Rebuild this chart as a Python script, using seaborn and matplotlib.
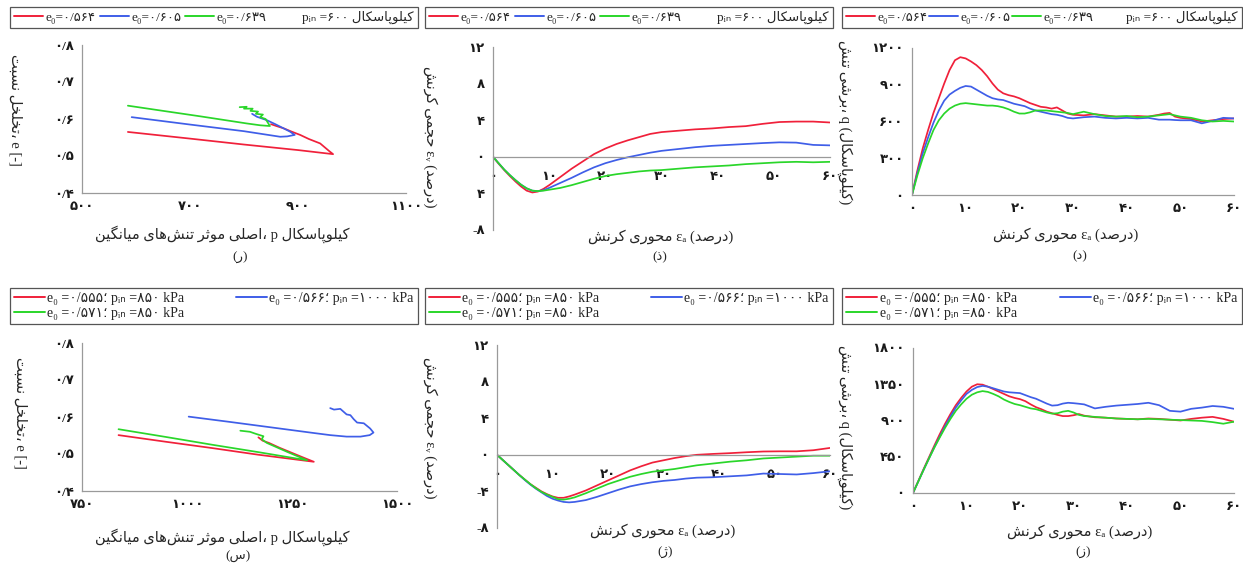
import numpy as np
import pandas as pd
import matplotlib
matplotlib.use("Agg")
import matplotlib.pyplot as plt
from matplotlib.lines import Line2D
import seaborn as sns

# ---------------- data ----------------
# (r) top-left : e vs p, p_in = 600 kPa
r_red_p = [585, 700, 800, 900, 965, 958, 941, 920, 904, 888, 873, 860, 850]
r_red_e = [0.565, 0.547, 0.531, 0.516, 0.505, 0.513, 0.534, 0.546, 0.557, 0.566, 0.575, 0.581, 0.586]
r_blue_p = [592, 700, 800, 867, 880, 894, 885, 873, 858, 842, 830, 824, 815]
r_blue_e = [0.605, 0.585, 0.567, 0.552, 0.553, 0.557, 0.566, 0.575, 0.586, 0.597, 0.603, 0.606, 0.614]
r_green_p = [585, 650, 720, 805, 830, 848, 840, 830, 835, 822, 826, 812, 816, 800, 805, 792]
r_green_e = [0.636, 0.622, 0.607, 0.588, 0.583, 0.581, 0.600, 0.605, 0.612, 0.614, 0.620, 0.622, 0.628, 0.628, 0.633, 0.632]

# (dh) top-middle : volumetric strain vs axial strain
z_ea = [0, 1, 2, 3, 4, 5, 6, 7, 8, 9, 10, 12, 14, 16, 18, 20, 22, 24, 26, 28, 30,
        33, 36, 39, 42, 45, 48, 51, 54, 57, 60]
z_red = [0, -0.75, -1.45, -2.1, -2.7, -3.25, -3.7, -3.9, -3.8, -3.5, -3.1, -2.2, -1.3, -0.5,
         0.3, 0.9, 1.4, 1.8, 2.15, 2.5, 2.7, 2.85, 3.0, 3.1, 3.25, 3.35, 3.6, 3.8, 3.85, 3.85, 3.75]
z_blue = [0, -0.7, -1.4, -2.0, -2.55, -3.05, -3.45, -3.7, -3.75, -3.65, -3.4, -2.85, -2.3, -1.7,
          -1.15, -0.7, -0.35, -0.05, 0.2, 0.45, 0.65, 0.85, 1.05, 1.2, 1.3, 1.4, 1.5, 1.58, 1.55, 1.3, 1.25]
z_green = [0, -0.7, -1.4, -2.0, -2.55, -3.05, -3.45, -3.7, -3.75, -3.7, -3.6, -3.4, -3.1, -2.75,
           -2.4, -2.1, -1.9, -1.75, -1.6, -1.5, -1.45, -1.3, -1.15, -1.05, -0.95, -0.8, -0.7, -0.6,
           -0.55, -0.6, -0.55]

# (d) top-right : deviator stress q vs axial strain
d_ea = [0, 1, 2, 3, 4, 5, 6, 7, 8, 9, 10, 11, 12, 13, 14, 15, 16, 17, 18, 19, 20, 21, 22, 23,
        24, 25, 26, 27, 28, 29, 30, 32, 34, 36, 38, 40, 42, 44, 46, 47, 48, 49, 50, 52, 54, 56, 58, 60]
d_red = [0, 200, 380, 530, 670, 790, 910, 1020, 1100, 1125, 1115, 1090, 1060, 1020, 970, 910, 860,
         830, 815, 805, 790, 770, 750, 735, 720, 715, 705, 715, 690, 665, 655, 650, 660, 650, 640,
         640, 645, 640, 655, 665, 670, 640, 630, 620, 600, 610, 620, 625]
d_blue = [0, 180, 340, 470, 590, 690, 770, 820, 850, 875, 890, 885, 860, 835, 810, 790, 780, 775,
          760, 745, 735, 725, 705, 690, 680, 670, 660, 655, 645, 630, 625, 635, 640, 630, 625, 630,
          625, 630, 615, 615, 615, 612, 610, 610, 585, 605, 630, 625]
d_green = [0, 160, 300, 420, 530, 610, 665, 705, 730, 745, 750, 745, 740, 735, 730, 730, 725, 715,
           700, 680, 665, 665, 675, 690, 690, 690, 685, 680, 675, 670, 660, 680, 660, 645, 640, 645,
           635, 640, 650, 655, 660, 650, 640, 630, 610, 600, 605, 600]

# (s) bottom-left : e vs p
s_red_p = [837, 950, 1060, 1170, 1302, 1280, 1250, 1220, 1195, 1180, 1170]
s_red_e = [0.551, 0.533, 0.516, 0.498, 0.479, 0.489, 0.503, 0.517, 0.530, 0.536, 0.545]
s_blue_p = [1004, 1100, 1200, 1300, 1341, 1380, 1413, 1435, 1444, 1436, 1421, 1405, 1397, 1389,
            1380, 1373, 1365, 1350, 1341]
s_blue_e = [0.601, 0.587, 0.572, 0.557, 0.551, 0.547, 0.547, 0.551, 0.558, 0.569, 0.583, 0.585,
            0.594, 0.605, 0.607, 0.614, 0.622, 0.620, 0.624]
s_green_p = [837, 950, 1060, 1170, 1286, 1238, 1200, 1190, 1178, 1182, 1168, 1160, 1150, 1127]
s_green_e = [0.567, 0.546, 0.525, 0.505, 0.483, 0.506, 0.525, 0.530, 0.540, 0.548, 0.553, 0.556, 0.560, 0.563]

# (zh) bottom-middle : volumetric strain vs axial strain
zh_ea = [0, 1, 2, 3, 4, 5, 6, 7, 8, 9, 10, 11, 12, 13, 14, 16, 18, 20, 22, 24, 26, 28, 30, 32, 34,
         36, 39, 42, 45, 48, 51, 54, 57, 60]
zh_red = [0, -0.55, -1.1, -1.65, -2.2, -2.7, -3.2, -3.6, -4.0, -4.3, -4.55, -4.7, -4.7, -4.55,
          -4.35, -3.9, -3.35, -2.8, -2.25, -1.7, -1.25, -0.85, -0.6, -0.35, -0.15, 0.0, 0.1, 0.18,
          0.28, 0.36, 0.38, 0.38, 0.5, 0.75]
zh_blue = [0, -0.55, -1.1, -1.65, -2.2, -2.75, -3.25, -3.7, -4.1, -4.5, -4.8, -5.0, -5.15, -5.2,
           -5.15, -4.95, -4.6, -4.2, -3.8, -3.45, -3.2, -3.0, -2.85, -2.75, -2.6, -2.5, -2.45,
           -2.35, -2.25, -2.05, -2.1, -2.15, -2.0, -1.8]
zh_green = [0, -0.55, -1.1, -1.65, -2.2, -2.7, -3.2, -3.65, -4.05, -4.35, -4.6, -4.85, -4.9, -4.8,
            -4.65, -4.2, -3.7, -3.2, -2.8, -2.4, -2.1, -1.85, -1.7, -1.55, -1.35, -1.15, -0.95,
            -0.75, -0.6, -0.4, -0.3, -0.2, -0.1, -0.1]

# (z) bottom-right : deviator stress q vs axial strain
zz_ea = [0, 1, 2, 3, 4, 5, 6, 7, 8, 9, 10, 11, 12, 13, 14, 15, 16, 17, 18, 19, 20, 21, 22, 23,
         24, 25, 26, 27, 28, 29, 30, 31, 32, 34, 36, 38, 40, 42, 44, 46, 48, 50, 52, 54, 56, 58, 60]
zz_red = [0, 150, 300, 445, 590, 730, 860, 980, 1090, 1180, 1260, 1320, 1350, 1345, 1320, 1290,
          1260, 1230, 1200, 1180, 1165, 1140, 1100, 1065, 1040, 1010, 990, 970, 955, 955, 965, 980,
          960, 940, 935, 925, 920, 915, 925, 920, 910, 900, 920, 935, 945, 920, 885]
zz_blue = [0, 145, 290, 430, 570, 700, 830, 950, 1060, 1150, 1230, 1280, 1315, 1330, 1320, 1300,
           1280, 1260, 1250, 1245, 1240, 1215, 1190, 1170, 1140, 1110, 1085, 1090, 1110, 1120, 1115,
           1108, 1100, 1050, 1070, 1085, 1095, 1105, 1120, 1090, 1020, 1010, 1045, 1060, 1080, 1070, 1045]
zz_green = [0, 145, 290, 430, 565, 690, 810, 920, 1020, 1100, 1170, 1220, 1250, 1265, 1255, 1230,
            1200, 1160, 1130, 1105, 1090, 1070, 1050, 1040, 1020, 1000, 985, 990, 1010, 1020, 1000,
            970, 955, 945, 935, 925, 920, 915, 920, 915, 910, 905, 900, 895, 880, 860, 885]

# legend / label texts
top_legend = ["e\u2080=\u06f0/\u06f5\u06f6\u06f4", "e\u2080=\u06f0/\u06f6\u06f0\u06f5",
              "e\u2080=\u06f0/\u06f6\u06f3\u06f9", "p\u1d62\u2099 =\u06f6\u06f0\u06f0 کیلوپاسکال"]
bot_legend = ["e\u2080 =\u06f0/\u06f5\u06f5\u06f5؛ p\u1d62\u2099 =\u06f8\u06f5\u06f0 kPa",
              "e\u2080 =\u06f0/\u06f5\u06f6\u06f6؛ p\u1d62\u2099 =\u06f1\u06f0\u06f0\u06f0 kPa",
              "e\u2080 =\u06f0/\u06f5\u06f7\u06f1؛ p\u1d62\u2099 =\u06f8\u06f5\u06f0 kPa"]
xlab_p = "میانگین تنش\u200cهای موثر اصلی، p کیلوپاسکال"
xlab_ea = "کرنش محوری \u03b5\u2090 (درصد)"
ylab_e = "نسبت تخلخل، e [-]"
ylab_ev = "کرنش حجمی \u03b5\u1d65 (درصد)"
ylab_q = "تنش برشی، q (کیلوپاسکال)"
captions = ["(ر)", "(ذ)", "(د)", "(س)", "(ژ)", "(ز)"]

e_ticks = [0.4, 0.5, 0.6, 0.7, 0.8]
e_ticklabels = ["\u06f0/\u06f4", "\u06f0/\u06f5", "\u06f0/\u06f6", "\u06f0/\u06f7", "\u06f0/\u06f8"]
r_pticks = [500, 700, 900, 1100]
r_pticklabels = ["\u06f5\u06f0\u06f0", "\u06f7\u06f0\u06f0", "\u06f9\u06f0\u06f0", "\u06f1\u06f1\u06f0\u06f0"]
s_pticks = [750, 1000, 1250, 1500]
s_pticklabels = ["\u06f7\u06f5\u06f0", "\u06f1\u06f0\u06f0\u06f0", "\u06f1\u06f2\u06f5\u06f0", "\u06f1\u06f5\u06f0\u06f0"]
ea_ticks = [0, 10, 20, 30, 40, 50, 60]
ea_ticklabels = ["\u06f0", "\u06f1\u06f0", "\u06f2\u06f0", "\u06f3\u06f0", "\u06f4\u06f0", "\u06f5\u06f0", "\u06f6\u06f0"]
ev_ticks = [-8, -4, 0, 4, 8, 12]
ev_ticklabels_top = ["-\u06f8", "\u06f4", "\u06f0", "\u06f4", "\u06f8", "\u06f1\u06f2"]
ev_ticklabels_bot = ["-\u06f8", "-\u06f4", "\u06f0", "\u06f4", "\u06f8", "\u06f1\u06f2"]
q1_ticks = [0, 300, 600, 900, 1200]
q1_ticklabels = ["\u06f0", "\u06f3\u06f0\u06f0", "\u06f6\u06f0\u06f0", "\u06f9\u06f0\u06f0", "\u06f1\u06f2\u06f0\u06f0"]
q2_ticks = [0, 450, 900, 1350, 1800]
q2_ticklabels = ["\u06f0", "\u06f4\u06f5\u06f0", "\u06f9\u06f0\u06f0", "\u06f1\u06f3\u06f5\u06f0", "\u06f1\u06f8\u06f0\u06f0"]

# ---------------- Persian shaping (visual form) ----------------
_AR = {
    '\u0622': ('\uFE81', '\uFE82', None, None),
    '\u0627': ('\uFE8D', '\uFE8E', None, None),
    '\u0628': ('\uFE8F', '\uFE90', '\uFE91', '\uFE92'),
    '\u067E': ('\uFB56', '\uFB57', '\uFB58', '\uFB59'),
    '\u062A': ('\uFE95', '\uFE96', '\uFE97', '\uFE98'),
    '\u062B': ('\uFE99', '\uFE9A', '\uFE9B', '\uFE9C'),
    '\u062C': ('\uFE9D', '\uFE9E', '\uFE9F', '\uFEA0'),
    '\u0686': ('\uFB7A', '\uFB7B', '\uFB7C', '\uFB7D'),
    '\u062D': ('\uFEA1', '\uFEA2', '\uFEA3', '\uFEA4'),
    '\u062E': ('\uFEA5', '\uFEA6', '\uFEA7', '\uFEA8'),
    '\u062F': ('\uFEA9', '\uFEAA', None, None),
    '\u0630': ('\uFEAB', '\uFEAC', None, None),
    '\u0631': ('\uFEAD', '\uFEAE', None, None),
    '\u0632': ('\uFEAF', '\uFEB0', None, None),
    '\u0698': ('\uFB8A', '\uFB8B', None, None),
    '\u0633': ('\uFEB1', '\uFEB2', '\uFEB3', '\uFEB4'),
    '\u0634': ('\uFEB5', '\uFEB6', '\uFEB7', '\uFEB8'),
    '\u0635': ('\uFEB9', '\uFEBA', '\uFEBB', '\uFEBC'),
    '\u0636': ('\uFEBD', '\uFEBE', '\uFEBF', '\uFEC0'),
    '\u0637': ('\uFEC1', '\uFEC2', '\uFEC3', '\uFEC4'),
    '\u0638': ('\uFEC5', '\uFEC6', '\uFEC7', '\uFEC8'),
    '\u0639': ('\uFEC9', '\uFECA', '\uFECB', '\uFECC'),
    '\u063A': ('\uFECD', '\uFECE', '\uFECF', '\uFED0'),
    '\u0641': ('\uFED1', '\uFED2', '\uFED3', '\uFED4'),
    '\u0642': ('\uFED5', '\uFED6', '\uFED7', '\uFED8'),
    '\u06A9': ('\uFB8E', '\uFB8F', '\uFB90', '\uFB91'),
    '\u06AF': ('\uFB92', '\uFB93', '\uFB94', '\uFB95'),
    '\u0644': ('\uFEDD', '\uFEDE', '\uFEDF', '\uFEE0'),
    '\u0645': ('\uFEE1', '\uFEE2', '\uFEE3', '\uFEE4'),
    '\u0646': ('\uFEE5', '\uFEE6', '\uFEE7', '\uFEE8'),
    '\u0648': ('\uFEED', '\uFEEE', None, None),
    '\u0647': ('\uFEE9', '\uFEEA', '\uFEEB', '\uFEEC'),
    '\u06CC': ('\uFBFC', '\uFBFD', '\uFBFE', '\uFBFF'),
}


def fa(s):
    out, run = [], []

    def flush():
        shaped = []
        for i, c in enumerate(run):
            if c not in _AR:
                continue
            prev = run[i - 1] if i > 0 else None
            nxt = run[i + 1] if i + 1 < len(run) else None
            jp = prev in _AR and _AR[prev][2] is not None
            jn = nxt in _AR and _AR[c][2] is not None
            f = _AR[c]
            shaped.append(f[3] if (jp and jn) else f[1] if jp else f[2] if jn else f[0])
        out.extend(reversed(shaped))
        run.clear()

    for ch in s:
        if ch in _AR or ch == '\u200c':
            run.append(ch)
        else:
            flush()
            out.append(ch)
    flush()
    return ''.join(out)


# ---------------- style ----------------
sns.set_style("white")
FAM = ['Liberation Serif', 'DejaVu Sans']
plt.rcParams['font.family'] = FAM
plt.rcParams['axes.unicode_minus'] = False

RED, BLUE, GREEN = '#f0203a', '#3f5ee8', '#2ad62a'
GREY = '#9a9a9a'
TICKFONT = {'fontsize': 9.5, 'fontweight': 'bold', 'color': '#1a1a1a', 'family': FAM}

W, H = 1243, 569
fig = plt.figure(figsize=(W / 100, H / 100), dpi=100)


def rect(x0, x1, ytop, ybot):
    return [x0 / W, 1 - ybot / H, (x1 - x0) / W, (ybot - ytop) / H]


def style(ax, zero_spine=False):
    for s in ['top', 'right']:
        ax.spines[s].set_visible(False)
    for s in ['left', 'bottom']:
        ax.spines[s].set_color(GREY)
        ax.spines[s].set_linewidth(0.9)
    if zero_spine:
        ax.spines['bottom'].set_position(('data', 0))
    ax.tick_params(axis='both', direction='out', length=3, width=0.8, color=GREY, pad=3)
    if zero_spine:
        ax.tick_params(axis='x', pad=7)
    ax.grid(False)
    ax.set_facecolor('white')


def draw(ax, series):
    rows = []
    for name, xs, ys in series:
        for i, (a, b) in enumerate(zip(xs, ys)):
            rows.append({'s': name, 'x': a, 'y': b, 'o': i})
    df = pd.DataFrame(rows)
    sns.lineplot(data=df, x='x', y='y', hue='s', palette={'r': RED, 'b': BLUE, 'g': GREEN},
                 hue_order=[s[0] for s in series], sort=False, estimator=None, units='s',
                 legend=False, lw=1.25, ax=ax)
    ax.set_xlabel('')
    ax.set_ylabel('')


def ticks(ax, xt, xl, yt, yl):
    ax.set_xticks(xt, xl, **TICKFONT)
    ax.set_yticks(yt, yl, **TICKFONT)


axes_px = [
    (82, 406, 45, 193), (493, 830, 47, 230), (912, 1234, 48, 195),
    (82, 397, 343, 491), (497, 830, 345, 528), (913, 1234, 348, 493),
]
axs = [fig.add_axes(rect(*a)) for a in axes_px]
for i, ax in enumerate(axs):
    style(ax, zero_spine=(i in (1, 4)))

# top-left
ax = axs[0]
draw(ax, [('r', r_red_p, r_red_e), ('b', r_blue_p, r_blue_e), ('g', r_green_p, r_green_e)])
ax.set_xlim(500, 1100); ax.set_ylim(0.4, 0.8)
ticks(ax, r_pticks, r_pticklabels, e_ticks, e_ticklabels)

# top-middle
ax = axs[1]
draw(ax, [('r', z_ea, z_red), ('b', z_ea, z_blue), ('g', z_ea, z_green)])
ax.set_xlim(0, 60); ax.set_ylim(-8, 12)
ticks(ax, ea_ticks, ea_ticklabels, ev_ticks, ev_ticklabels_top)

# top-right
ax = axs[2]
draw(ax, [('r', d_ea, d_red), ('b', d_ea, d_blue), ('g', d_ea, d_green)])
ax.set_xlim(0, 60); ax.set_ylim(0, 1200)
ticks(ax, ea_ticks, ea_ticklabels, q1_ticks, q1_ticklabels)

# bottom-left
ax = axs[3]
draw(ax, [('r', s_red_p, s_red_e), ('b', s_blue_p, s_blue_e), ('g', s_green_p, s_green_e)])
ax.set_xlim(750, 1500); ax.set_ylim(0.4, 0.8)
ticks(ax, s_pticks, s_pticklabels, e_ticks, e_ticklabels)

# bottom-middle
ax = axs[4]
draw(ax, [('r', zh_ea, zh_red), ('b', zh_ea, zh_blue), ('g', zh_ea, zh_green)])
ax.set_xlim(0, 60); ax.set_ylim(-8, 12)
ticks(ax, ea_ticks, ea_ticklabels, ev_ticks, ev_ticklabels_bot)

# bottom-right
ax = axs[5]
draw(ax, [('r', zz_ea, zz_red), ('b', zz_ea, zz_blue), ('g', zz_ea, zz_green)])
ax.set_xlim(0, 60); ax.set_ylim(0, 1800)
ticks(ax, ea_ticks, ea_ticklabels, q2_ticks, q2_ticklabels)

# labels
xlabels = [xlab_p, xlab_ea, xlab_ea, xlab_p, xlab_ea, xlab_ea]
xlab_x = [222, 661, 1066, 222, 663, 1080]
xlab_y = [234, 237, 235, 537, 531, 532]
cap_x = [240, 660, 1080, 238, 665, 1083]
cap_y = [258, 257, 256, 557, 553, 553]
ylabels = [ylab_e, ylab_ev, ylab_q, ylab_e, ylab_ev, ylab_q]
ylab_x = [15, 430, 845, 20, 430, 845]
ylab_yc = [110, 137, 122, 413, 428, 427]
for i, ax in enumerate(axs):
    x0, x1, yt, yb = axes_px[i]
    ax.set_xlabel(fa(xlabels[i]), fontsize=10.5, family=FAM)
    ax.xaxis.set_label_coords((xlab_x[i] - x0) / (x1 - x0), (yb - xlab_y[i]) / (yb - yt))
    ax.xaxis.label.set_va('center')
    ax.set_ylabel(fa(ylabels[i]), fontsize=10.5, family=FAM, rotation=270)
    ax.yaxis.set_label_coords((ylab_x[i] - x0) / (x1 - x0), (yb - ylab_yc[i]) / (yb - yt))
    ax.yaxis.label.set_va('center')
    ax.yaxis.label.set_ha('center')
    fig.text(cap_x[i] / W, 1 - cap_y[i] / H, fa(captions[i]), fontsize=9.5, family=FAM,
             ha='center', va='center')

# legends
leg_boxes = [(10, 418), (425, 833), (842, 1242)]
for i, ax in enumerate(axs):
    x0, x1 = leg_boxes[i % 3]
    if i < 3:
        handles = [Line2D([], [], color=c, lw=1.4) for c in (RED, BLUE, GREEN)]
        handles.append(Line2D([], [], color='none'))
        labels = [fa(t) for t in top_legend]
        ncol, ytop, fs = 4, 7, 9.5
    else:
        handles = [Line2D([], [], color=c, lw=1.4) for c in (RED, GREEN, BLUE)]
        labels = [fa(bot_legend[0]), fa(bot_legend[2]), fa(bot_legend[1])]
        ncol, ytop, fs = 2, 288, 10
    leg = ax.legend(handles, labels, loc='upper left', ncol=ncol, mode='expand',
                    bbox_to_anchor=(x0 / W, 1 - ytop / H, (x1 - x0) / W, 0),
                    bbox_transform=fig.transFigure, borderaxespad=0,
                    prop={'family': FAM, 'size': fs}, handlelength=2.2, handletextpad=0.2,
                    borderpad=0.3, labelspacing=0.1, columnspacing=0.8,
                    frameon=True, fancybox=False, framealpha=1)
    leg.get_frame().set_edgecolor('#555555')
    leg.get_frame().set_linewidth(0.9)

fig.savefig('out.png', dpi=100, facecolor='white')
